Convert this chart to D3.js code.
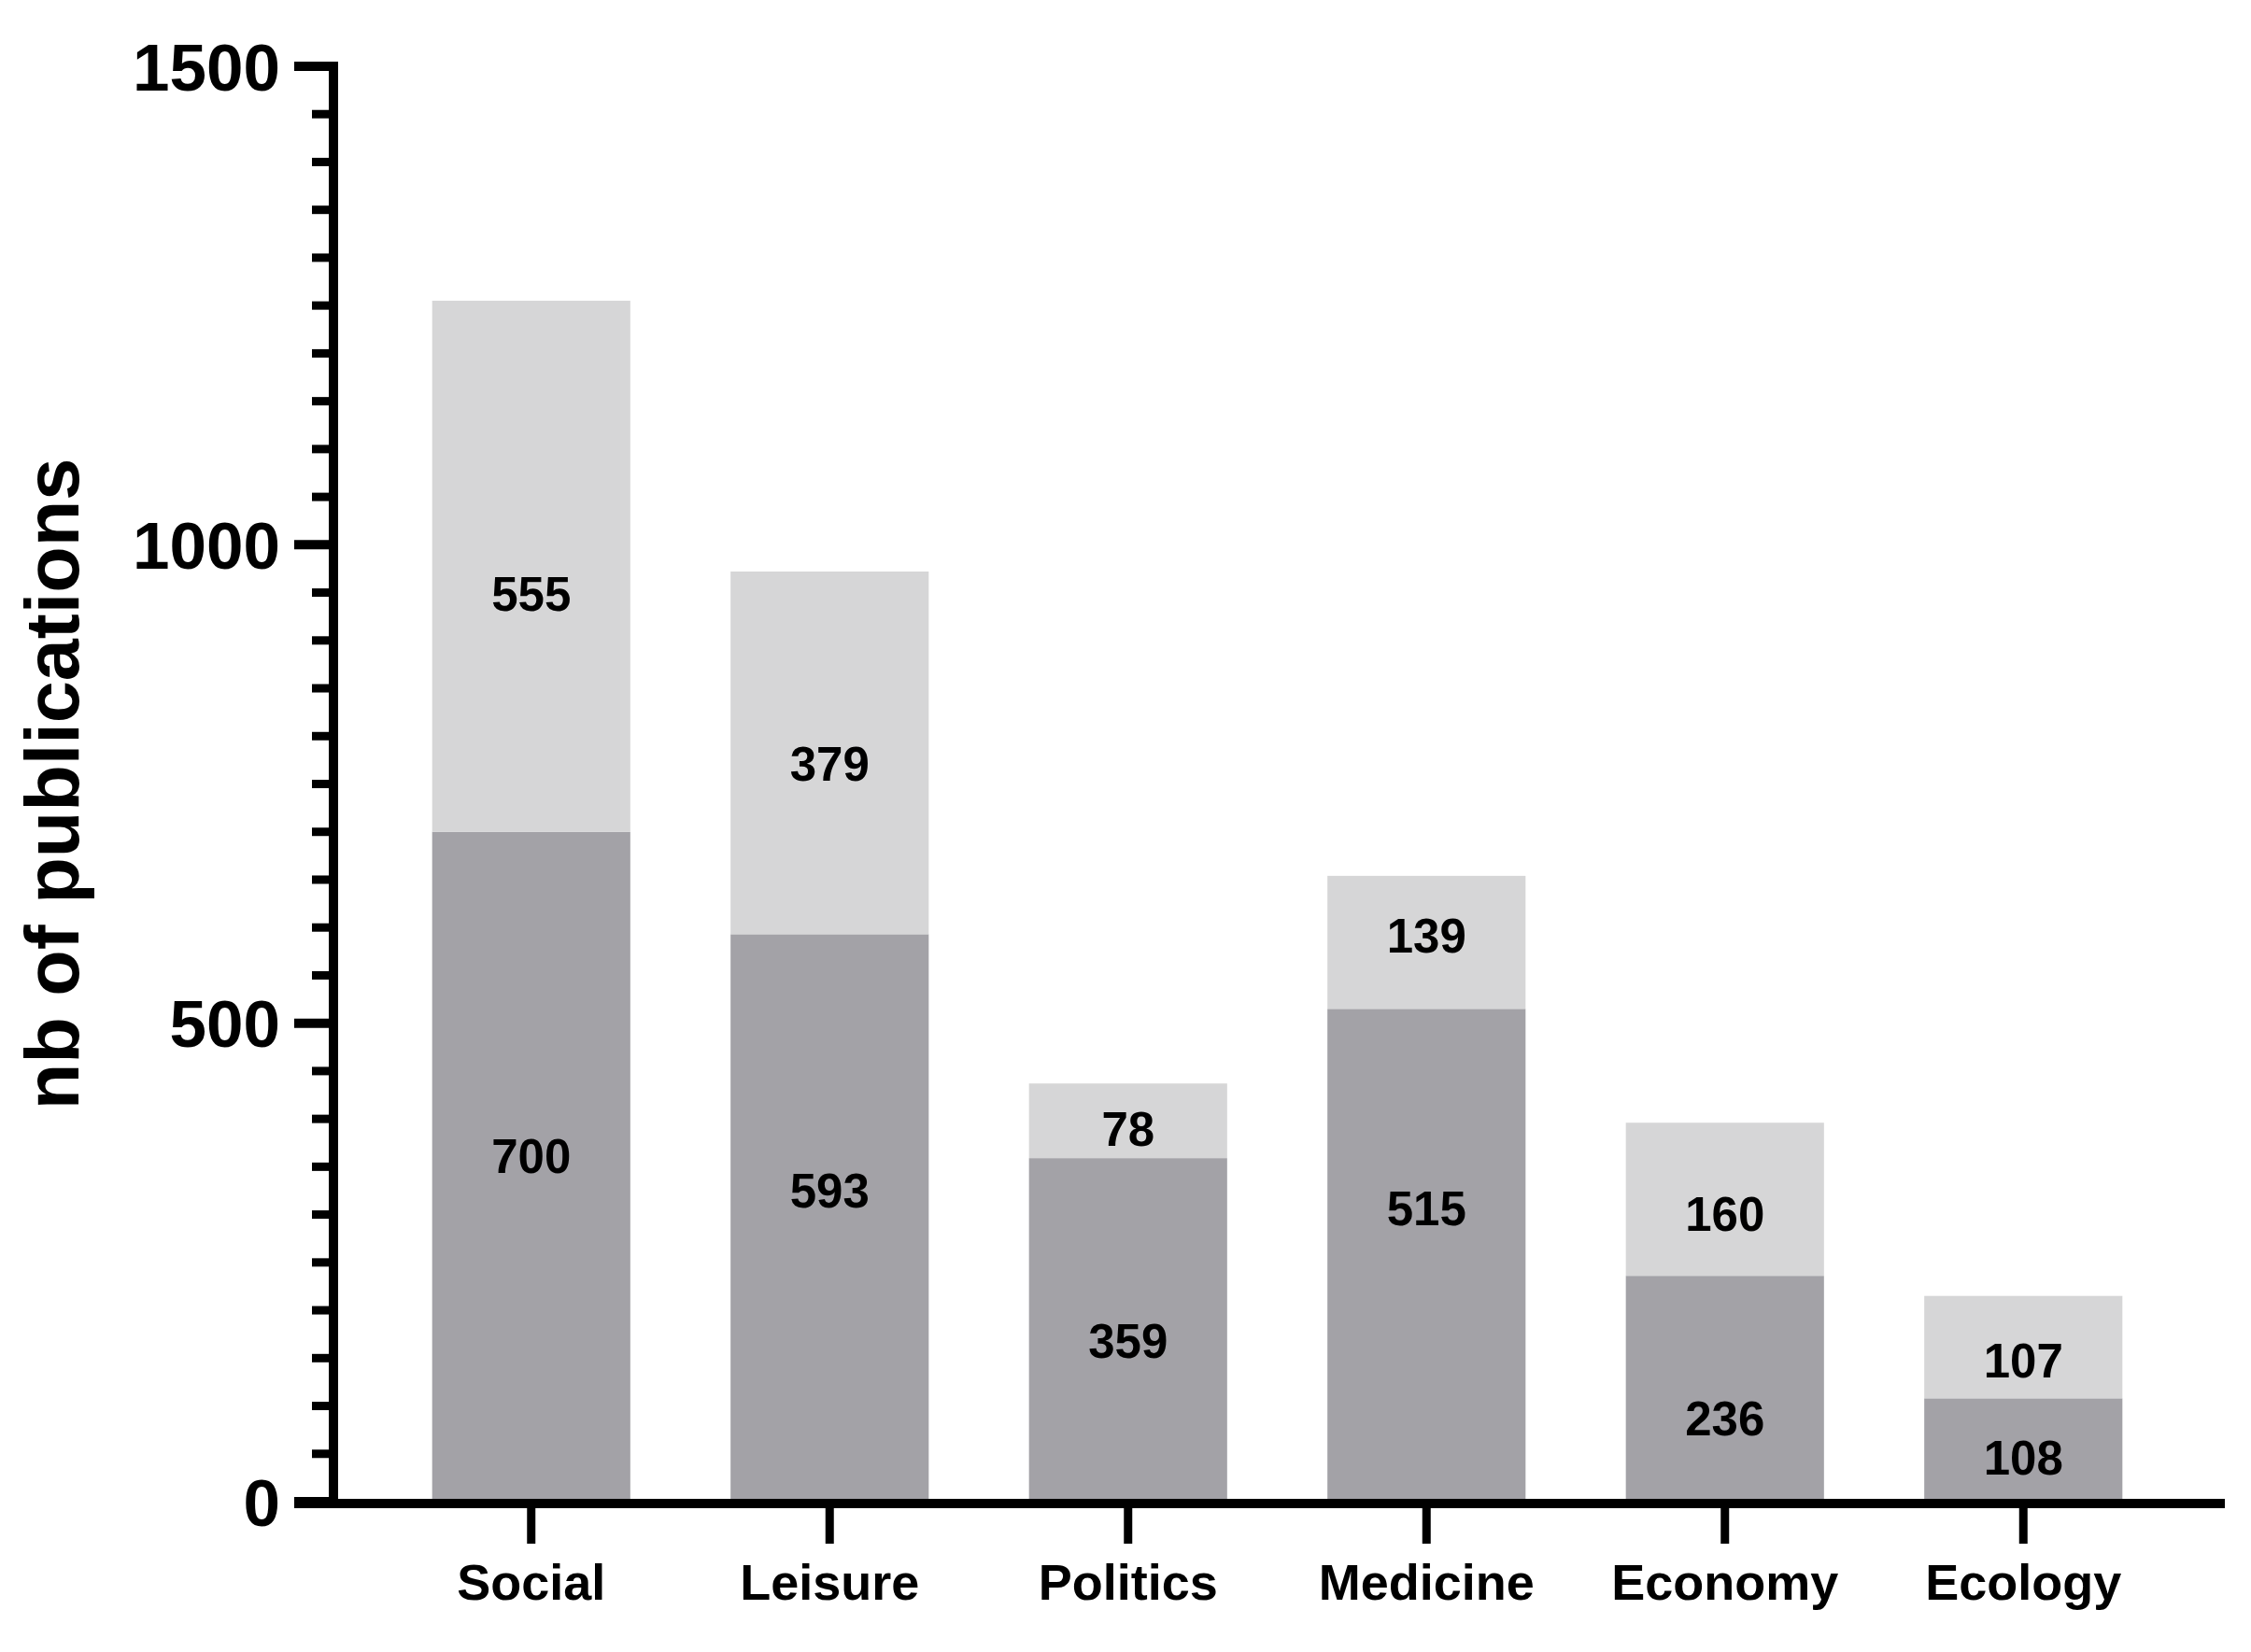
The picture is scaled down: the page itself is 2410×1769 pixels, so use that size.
<!DOCTYPE html>
<html>
<head>
<meta charset="utf-8">
<script src="https://cdn.jsdelivr.net/npm/d3@7"></script>
<style>
  body { margin: 0; background: #fff; }
  text { font-family: "Liberation Sans", Arial, sans-serif; font-weight: bold; fill: #000; }
</style>
</head>
<body>
<script>
var categories = ['Social', 'Leisure', 'Politics', 'Medicine', 'Economy', 'Ecology'];
var lowerValues = [700, 593, 359, 515, 236, 108];
var upperValues = [555, 379, 78, 139, 160, 107];
// where the numbers sit on each segment, in publications
var lowerLabelAt = [361, 325, 168, 307, 87, 46];
var upperLabelAt = [949, 771, 390, 592, 301, 148];
var yTicks = [0, 500, 1000, 1500];

var fullWidth = 2410;
var fullHeight = 1769;

var svg = d3.select('body').append('svg')
  .attr('width', fullWidth)
  .attr('height', fullHeight);

var x = d3.scaleBand()
  .domain(categories)
  .range([409, 2326])
  .paddingInner(0.336)
  .paddingOuter(0.168);

var y = d3.scaleLinear()
  .domain([0, 1500])
  .range([1608, 71]);

var bw = x.bandwidth();
var axisX = 357;

// bars
var bars = svg.append('g').classed('bars', true);

bars.selectAll('rect.lower')
  .data(categories)
  .enter().append('rect')
    .attr('x', function(d) { return x(d); })
    .attr('y', function(d, i) { return y(lowerValues[i]); })
    .attr('width', bw)
    .attr('height', function(d, i) { return y(0) - y(lowerValues[i]); })
    .style('fill', '#a3a2a7');

bars.selectAll('rect.upper')
  .data(categories)
  .enter().append('rect')
    .attr('x', function(d) { return x(d); })
    .attr('y', function(d, i) { return y(lowerValues[i] + upperValues[i]); })
    .attr('width', bw)
    .attr('height', function(d, i) { return y(lowerValues[i]) - y(lowerValues[i] + upperValues[i]); })
    .style('fill', '#d6d6d7');

// value labels
var labels = svg.append('g').classed('labels', true)
  .style('font-size', '51px')
  .style('text-anchor', 'middle');

labels.selectAll('text.lower')
  .data(categories)
  .enter().append('text')
    .attr('x', function(d) { return x(d) + bw / 2; })
    .attr('y', function(d, i) { return y(lowerLabelAt[i]); })
    .attr('dy', '0.36em')
    .text(function(d, i) { return lowerValues[i]; });

labels.selectAll('text.upper')
  .data(categories)
  .enter().append('text')
    .attr('x', function(d) { return x(d) + bw / 2; })
    .attr('y', function(d, i) { return y(upperLabelAt[i]); })
    .attr('dy', '0.36em')
    .text(function(d, i) { return upperValues[i]; });

// y axis: minor ticks every 50, labelled ones every 500
var yAxisEle = svg.append('g')
  .classed('y axis', true)
  .attr('transform', 'translate(' + axisX + ',0)');

yAxisEle.selectAll('line.minor')
  .data(d3.range(50, 1500, 50).filter(function(v) { return v % 500 !== 0; }))
  .enter().append('line')
    .attr('x1', -23).attr('x2', 0)
    .attr('y1', function(d) { return y(d); })
    .attr('y2', function(d) { return y(d); })
    .style('stroke', '#000')
    .style('stroke-width', 9);

yAxisEle.selectAll('line.major')
  .data(yTicks)
  .enter().append('line')
    .attr('x1', -42).attr('x2', 0)
    .attr('y1', function(d) { return y(d); })
    .attr('y2', function(d) { return y(d); })
    .style('stroke', '#000')
    .style('stroke-width', 10);

yAxisEle.selectAll('text')
  .data(yTicks)
  .enter().append('text')
    .attr('x', -57)
    .attr('y', function(d) { return y(d); })
    .attr('dy', '0.36em')
    .style('text-anchor', 'end')
    .style('font-size', '71px')
    .text(function(d) { return d; });

yAxisEle.append('line')
  .attr('x1', 0).attr('x2', 0)
  .attr('y1', y(1500) - 5).attr('y2', y(0) + 7)
  .style('stroke', '#000')
  .style('stroke-width', 10);

// x axis
var xAxisEle = svg.append('g')
  .classed('x axis', true)
  .attr('transform', 'translate(0,' + (y(0) + 2) + ')');

xAxisEle.append('line')
  .attr('x1', axisX - 42).attr('x2', 2382)
  .attr('y1', 0).attr('y2', 0)
  .style('stroke', '#000')
  .style('stroke-width', 10);

xAxisEle.selectAll('line.tick')
  .data(categories)
  .enter().append('line')
    .attr('x1', function(d) { return x(d) + bw / 2; })
    .attr('x2', function(d) { return x(d) + bw / 2; })
    .attr('y1', 0).attr('y2', 43)
    .style('stroke', '#000')
    .style('stroke-width', 9);

xAxisEle.selectAll('text')
  .data(categories)
  .enter().append('text')
    .attr('x', function(d) { return x(d) + bw / 2; })
    .attr('y', 103)
    .style('text-anchor', 'middle')
    .style('font-size', '54px')
    .text(function(d) { return d; });

// axis title
svg.append('text')
  .attr('transform', 'translate(84,' + (y(750)) + ') rotate(-90)')
  .style('text-anchor', 'middle')
  .style('font-size', '81px')
  .text('nb of publications');
</script>
</body>
</html>
